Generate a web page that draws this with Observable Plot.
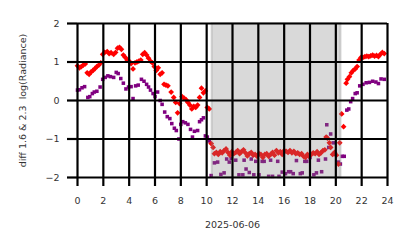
<!DOCTYPE html>
<html><head><meta charset="utf-8">
<script src="https://cdn.jsdelivr.net/npm/d3@7"></script>
<script src="https://cdn.jsdelivr.net/npm/@observablehq/plot@0.6"></script>
<style>body{margin:0;background:#fff}</style>
</head><body><div id="chart"></div>
<script>
const redT = [0.0,0.15,0.3,0.45,0.6,0.75,0.9,1.05,1.2,1.35,1.5,1.65,1.8,1.95,2.1,2.3,2.45,2.6,2.8,2.95,3.1,3.25,3.4,3.55,3.7,3.85,4.0,4.15,4.3,4.45,4.6,4.75,4.9,5.05,5.2,5.35,5.5,5.65,5.8,5.95,6.1,6.25,6.4,6.55,6.7,6.85,7.0,7.25,7.45,7.6,7.75,7.9,8.1,8.25,8.4,8.55,8.7,8.85,9.0,9.15,9.3,9.45,9.6,9.75,9.9,10.05,10.2,10.35,
10.5,10.6,10.75,10.9,11.05,11.2,11.35,11.5,11.65,11.8,11.95,12.1,12.25,12.4,12.55,12.7,12.85,13.0,13.15,13.3,13.45,13.6,13.75,13.9,14.05,14.2,14.35,14.5,14.65,14.8,14.95,15.1,15.25,15.4,15.55,15.7,15.85,16.0,16.15,16.3,16.45,16.6,16.75,16.9,17.05,17.2,17.35,17.5,17.65,17.8,17.95,18.1,18.25,18.4,18.55,18.7,18.85,19.0,19.15,19.25,19.35,19.5,19.6,19.75,19.9,20.05,20.2,20.3,20.45,20.6,
20.8,20.9,21.05,21.2,21.35,21.5,21.65,21.8,21.95,22.1,22.25,22.4,22.55,22.7,22.85,23.0,23.15,23.3,23.45,23.6,23.75];
const redV = [0.90,0.85,0.88,0.92,0.95,0.72,0.68,0.74,0.78,0.83,0.88,0.92,0.98,1.20,1.25,1.27,1.22,1.24,1.20,1.25,1.36,1.38,1.33,1.18,1.12,1.05,1.02,0.96,0.82,0.98,1.00,1.02,1.05,1.20,1.24,1.18,1.10,1.02,0.98,0.88,0.78,0.85,0.68,0.72,0.42,0.40,0.38,0.22,0.08,-0.05,-0.32,-0.08,0.10,0.06,0.02,-0.05,-0.12,-0.22,-0.15,-0.18,-0.12,0.08,0.32,0.20,0.25,-0.18,-0.22,-1.12,
-1.22,-1.38,-1.35,-1.40,-1.33,-1.36,-1.30,-1.26,-1.35,-1.42,-1.33,-1.38,-1.35,-1.30,-1.38,-1.33,-1.28,-1.36,-1.44,-1.38,-1.35,-1.42,-1.40,-1.45,-1.38,-1.40,-1.48,-1.40,-1.38,-1.45,-1.40,-1.35,-1.42,-1.30,-1.36,-1.33,-1.40,-1.30,-1.32,-1.35,-1.30,-1.36,-1.32,-1.38,-1.36,-1.40,-1.38,-1.45,-1.48,-1.40,-1.45,-1.40,-1.36,-1.38,-1.33,-1.40,-1.36,-1.30,-1.28,-0.95,-0.98,-1.10,-1.22,-1.40,-1.35,-1.42,-1.65,-1.10,-0.35,-0.68,
0.45,0.55,0.62,0.72,0.78,0.82,0.88,1.05,1.12,1.12,1.14,1.15,1.14,1.16,1.18,1.15,1.17,1.14,1.20,1.25,1.22];
const purT = [0.0,0.15,0.35,0.55,0.8,0.95,1.15,1.3,1.5,1.75,1.95,2.15,2.35,2.55,2.8,3.0,3.15,3.35,3.55,3.75,3.95,4.15,4.3,4.5,4.7,4.95,5.15,5.35,5.5,5.65,5.85,6.0,6.2,6.4,6.55,6.75,6.95,7.15,7.3,7.5,7.65,7.85,8.0,8.15,8.35,8.55,8.75,8.9,9.05,9.3,9.45,9.6,9.75,9.9,10.05,10.2,
10.35,10.6,10.85,11.1,11.35,11.55,11.75,11.9,12.25,12.5,12.8,12.9,13.05,13.3,13.45,13.65,13.8,14.05,14.3,14.45,14.8,14.95,15.1,15.5,15.6,15.85,16.1,16.35,16.5,16.7,16.95,17.25,17.4,17.6,17.75,18.0,18.3,18.5,18.65,18.9,19.2,19.3,19.45,19.6,19.8,19.95,20.2,20.35,20.5,20.65,
20.85,21.0,21.15,21.3,21.5,21.65,21.85,22.1,22.35,22.6,22.85,23.1,23.3,23.5,23.75];
const purV = [0.27,0.28,0.33,0.36,0.08,0.10,0.18,0.22,0.24,0.35,0.55,0.60,0.64,0.62,0.60,0.73,0.70,0.57,0.45,0.30,0.35,0.36,0.05,0.38,0.40,0.55,0.50,0.42,0.35,0.27,0.18,0.10,0.22,0.00,-0.10,-0.30,-0.42,-0.47,-0.60,-0.72,-0.78,-1.00,-0.62,-0.55,-0.58,-0.62,-0.75,-0.95,-0.80,-0.78,-0.55,-0.50,-0.45,-0.92,-0.95,-1.05,
-1.95,-1.62,-1.60,-1.92,-1.88,-1.52,-1.60,-1.50,-1.55,-1.93,-1.93,-1.55,-1.78,-1.87,-1.52,-1.93,-1.58,-1.93,-1.58,-1.58,-1.97,-1.55,-1.97,-1.58,-1.97,-1.86,-1.90,-1.85,-1.85,-1.90,-1.56,-1.90,-1.88,-1.58,-1.58,-1.48,-1.93,-1.88,-1.55,-1.85,-1.52,-0.63,-1.22,-0.87,-1.10,-1.40,-1.60,-1.65,-1.45,-1.45,
-0.25,-0.22,-0.03,0.05,0.18,0.20,0.38,0.42,0.46,0.47,0.50,0.48,0.44,0.56,0.55];
const nightStart = [10.42];
const nightEnd = [20.4];
const xTicks = [0,2,4,6,8,10,12,14,16,18,20,22,24];
const yTicks = [-2,-1,0,1,2];
const xLabel = "2025-06-06";
const yLabel = "diff 1.6 & 2.3  log(Radiance)";

const red = redT.map((t, i) => ({t, v: redV[i]}));
const pur = purT.map((t, i) => ({t, v: purV[i]}));
const night = nightStart.map((a, i) => ({a, b: nightEnd[i]}));
const fmt = d => d < 0 ? "\u2212" + Math.abs(d) : String(d);
const lw = 2.2;

const chart = Plot.plot({
  width: 414, height: 248,
  marginLeft: 77, marginRight: 27, marginTop: 23, marginBottom: 71,
  style: {fontFamily: "'DejaVu Sans'", fontSize: "9.5px", color: "#000", background: "#fff"},
  x: {domain: [0, 24]},
  y: {domain: [-2, 2]},
  marks: [
    Plot.frame({stroke: "#ccc"}),
    Plot.dot(pur, {x: "t", y: "v", symbol: "square", r: 2, fill: "#800080"}),
    Plot.dot(red, {x: "t", y: "v", symbol: "diamond2", r: 2.6, fill: "#ff0000"}),
    Plot.rect(night, {x1: "a", x2: "b", fill: "#808080", fillOpacity: 0.3, stroke: "#808080", strokeOpacity: 0.3, strokeWidth: 2}),
    Plot.gridX(xTicks, {stroke: "#000", strokeOpacity: 1, strokeWidth: lw}),
    Plot.gridY(yTicks, {stroke: "#000", strokeOpacity: 1, strokeWidth: lw}),
    Plot.axisX(xTicks, {strokeWidth: lw, tickSize: 9, tickPadding: 11, tickFormat: fmt, fill: "#333",
      label: xLabel, labelAnchor: "center", labelArrow: "none", labelOffset: 50}),
    Plot.axisY(yTicks, {strokeWidth: lw, tickSize: 10, tickPadding: 8, tickFormat: fmt, fill: "#333",
      label: yLabel, labelAnchor: "center", labelArrow: "none", labelOffset: 58})
  ]
});
document.getElementById("chart").appendChild(chart);
</script>
</body></html>
